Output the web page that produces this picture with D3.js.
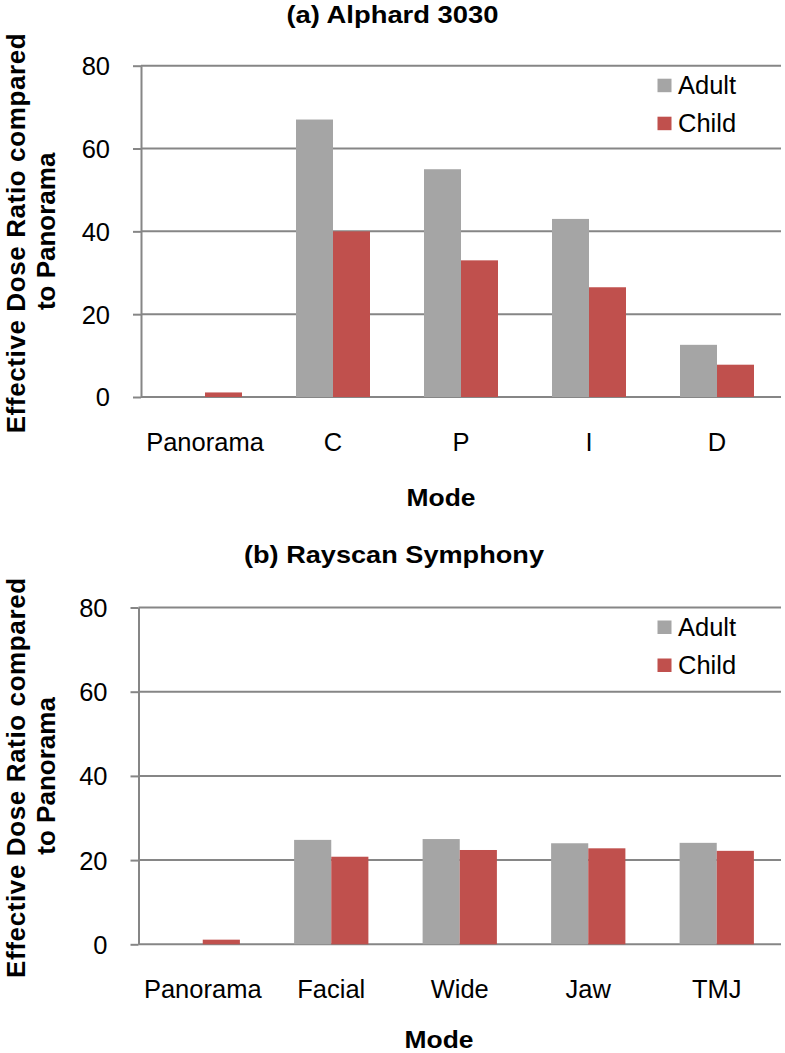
<!DOCTYPE html>
<html>
<head>
<meta charset="utf-8">
<script src="https://cdn.jsdelivr.net/npm/d3@7"></script>
<style>
  html, body { margin: 0; padding: 0; background: #fff; }
  svg { display: block; }
  text { font-family: "Liberation Sans", Arial, Helvetica, sans-serif; fill: #000; }
</style>
</head>
<body>
<svg id="chart" width="785" height="1053"></svg>
<script>
// ---- data ----
const seriesNames = ["Adult", "Child"];
const categoriesA = ["Panorama", "C", "P", "I", "D"];
const adultA = [0, 67, 55, 43, 12.6];
const childA = [1.1, 40, 33, 26.5, 7.8];
const categoriesB = ["Panorama", "Facial", "Wide", "Jaw", "TMJ"];
const adultB = [0, 24.8, 25.0, 24.0, 24.1];
const childB = [1.1, 20.8, 22.4, 22.8, 22.2];
const yTicks = [0, 20, 40, 60, 80];
const titleA = "(a) Alphard 3030";
const titleB = "(b) Rayscan Symphony";
const xTitle = "Mode";
const yTitleLines = ["Effective Dose Ratio compared", "to Panorama"];

// ---- style ----
const colors = { Adult: "#A5A5A5", Child: "#C0504D" };
const gridColor = "#868686";
const svg = d3.select("#chart");
svg.append("rect").attr("width", 785).attr("height", 1053).attr("fill", "#fff");

function drawPanel(cfg) {
  const { left, right, top, bottom, cats, adult, child, title, titleX, titleY, titleLen,
          labelY, modeX, modeY, ylabX1, ylabX2 } = cfg;
  const g = svg.append("g");
  const x = d3.scaleBand().domain(cats).range([left, right]).paddingInner(0).paddingOuter(0);
  const xs = d3.scaleBand().domain(seriesNames).range([0, x.bandwidth()])
    .paddingInner(0).paddingOuter(0.73);
  const y = d3.scaleLinear().domain([0, 80]).range([bottom, top]);

  // gridlines
  g.append("g").selectAll("line").data(yTicks).join("line")
    .attr("x1", left).attr("x2", right)
    .attr("y1", d => y(d)).attr("y2", d => y(d))
    .attr("stroke", gridColor).attr("stroke-width", 2);

  // bars
  const rows = cats.map((c, i) => ({ cat: c, Adult: adult[i], Child: child[i] }));
  const grp = g.append("g").selectAll("g").data(rows).join("g")
    .attr("transform", d => `translate(${x(d.cat)},0)`);
  grp.selectAll("rect").data(d => seriesNames.map(s => ({ s, v: d[s] }))).join("rect")
    .attr("x", d => xs(d.s))
    .attr("width", xs.bandwidth())
    .attr("y", d => y(d.v))
    .attr("height", d => y(0) - y(d.v))
    .attr("fill", d => colors[d.s]);

  // y axis
  const yAxis = d3.axisLeft(y).tickValues(yTicks).tickSizeInner(8).tickSizeOuter(0).tickPadding(23);
  const ya = g.append("g").attr("transform", `translate(${left},0)`).call(yAxis);
  ya.select(".domain").attr("stroke", gridColor).attr("stroke-width", 2);
  ya.selectAll(".tick line").attr("stroke", gridColor).attr("stroke-width", 2);
  ya.selectAll(".tick text").attr("font-size", 25.5).attr("font-family", "Liberation Sans, Arial, sans-serif")
    .attr("fill", "#000").attr("dy", "0.35em");

  // x axis labels
  const xAxis = d3.axisBottom(x).tickSize(0);
  const xa = g.append("g").attr("transform", `translate(0,${bottom})`).call(xAxis);
  xa.select(".domain").remove();
  xa.selectAll(".tick text").attr("font-size", 25.5).attr("font-family", "Liberation Sans, Arial, sans-serif")
    .attr("fill", "#000").attr("y", labelY - bottom).attr("dy", 0);

  // title
  g.append("text").attr("x", titleX).attr("y", titleY).attr("text-anchor", "middle")
    .attr("font-size", 24).attr("font-weight", "bold")
    .attr("textLength", titleLen).attr("lengthAdjust", "spacingAndGlyphs").text(title);
  // x title
  g.append("text").attr("x", modeX).attr("y", modeY).attr("text-anchor", "middle")
    .attr("font-size", 23).attr("font-weight", "bold")
    .attr("textLength", 69).attr("lengthAdjust", "spacingAndGlyphs").text(xTitle);
  // y title
  const cy = (top + bottom) / 2;
  [ylabX1, ylabX2].forEach((bx, i) => {
    const t = g.append("text").attr("transform", `translate(${bx},${cy + (i === 0 ? 2 : 0)}) rotate(-90)`)
      .attr("text-anchor", "middle").attr("font-size", 26).attr("font-weight", "bold")
      .text(yTitleLines[i]);
    if (i === 0) t.attr("textLength", 400).attr("lengthAdjust", "spacing");
  });

  // legend
  const lg = g.append("g");
  seriesNames.forEach((s, i) => {
    const base = top + 28.5 + i * 38;
    lg.append("rect").attr("x", right - 123.5).attr("y", base - 15.5)
      .attr("width", 14).attr("height", 13.5).attr("fill", colors[s]);
    lg.append("text").attr("x", right - 103).attr("y", base)
      .attr("font-size", 25.5).text(s);
  });
}

drawPanel({ left: 141, right: 781, top: 65.7, bottom: 397, cats: categoriesA, adult: adultA, child: childA,
  title: titleA, titleX: 392.5, titleY: 23, titleLen: 212, labelY: 451, modeX: 441, modeY: 506,
  ylabX1: 25, ylabX2: 55 });
drawPanel({ left: 138.5, right: 781, top: 607.5, bottom: 944.3, cats: categoriesB, adult: adultB, child: childB,
  title: titleB, titleX: 394, titleY: 563, titleLen: 300, labelY: 998, modeX: 439, modeY: 1047.5,
  ylabX1: 25, ylabX2: 55 });
</script>
</body>
</html>
